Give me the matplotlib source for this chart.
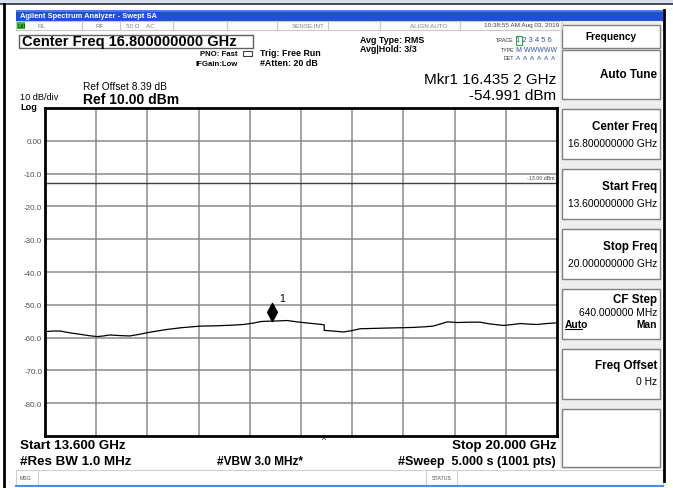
import numpy as np
import matplotlib.pyplot as plt
from matplotlib.patches import Rectangle
from matplotlib.path import Path

plt.rcParams['font.family'] = ['Liberation Sans', 'DejaVu Sans']

# sweep settings
f_start = 13.6
f_stop = 20.0
ref_level = 10.0
db_div = 10.0
limit_dbm = -13.0

# trace (GHz, dBm)
freq = [13.60, 13.70, 13.79, 13.90, 14.04, 14.15, 14.25, 14.33, 14.41, 14.55,
        14.66, 14.78, 14.88, 15.00, 15.13, 15.30, 15.54, 15.75, 15.95, 16.08,
        16.20, 16.30, 16.38, 16.435, 16.52, 16.63, 16.75, 16.90, 17.06, 17.09,
        17.09, 17.20, 17.33, 17.45, 17.54, 17.70, 17.85, 18.04, 18.20, 18.35,
        18.45, 18.55, 18.63, 18.75, 18.90, 19.04, 19.15, 19.33, 19.45, 19.54,
        19.65, 19.75, 19.88, 20.00]
level = [-58.2, -58.0, -58.0, -58.5, -59.0, -59.4, -59.7, -59.5, -59.2, -59.4,
         -59.5, -59.0, -58.5, -58.0, -57.5, -57.0, -56.5, -56.4, -56.2, -56.0,
         -55.6, -55.1, -55.0, -54.99, -54.9, -54.8, -55.2, -55.6, -56.0, -56.1,
         -57.8, -58.0, -58.3, -57.8, -57.3, -57.2, -57.1, -57.0, -56.9, -56.7,
         -56.5, -55.8, -55.2, -55.4, -55.3, -55.3, -55.8, -56.3, -56.0, -55.7,
         -55.9, -56.0, -55.7, -55.5]

mkr_freq = 16.4352
mkr_level = -54.991

ytick_vals = [0, -10, -20, -30, -40, -50, -60, -70, -80]
ytick_text = ['0.00', '-10.0', '-20.0', '-30.0', '-40.0', '-50.0', '-60.0', '-70.0', '-80.0']

softkeys = [('Center Freq', '16.800000000 GHz'),
            ('Start Freq', '13.600000000 GHz'),
            ('Stop Freq', '20.000000000 GHz')]

W, H = 673, 489
fig = plt.figure(figsize=(W / 100, H / 100), dpi=100)
fig.patch.set_facecolor('white')

# screen furniture, drawn in pixel coords
bg = fig.add_axes([0, 0, 1, 1])
bg.set_xlim(0, W)
bg.set_ylim(H, 0)
bg.axis('off')

def box(x0, y0, x1, y1, fc='white', ec='none', lw=1.0, z=1):
    bg.add_patch(Rectangle((x0, y0), x1 - x0, y1 - y0, facecolor=fc,
                           edgecolor=ec, linewidth=lw, zorder=z))

def txt(x, y, s, size=7, ha='left', weight='normal', color='black', **kw):
    bg.text(x, y, s, fontsize=size, ha=ha, va='center', fontweight=weight,
            color=color, zorder=5, **kw)

box(0, 0, W, 4.5, fc='#d9e1ee')
bg.plot([0, W], [4.8, 4.8], color='#303040', lw=1.2)
bg.plot([3.5, 3.5], [5, H], color='black', lw=2)
bg.plot([664, 664], [11, 482], color='black', lw=2)

# title bar
box(16, 11, 663, 21.5, fc='#1f4fd6')
box(16, 11, 663, 13, fc='#4d78e8')
txt(20, 16.5, 'Agilent Spectrum Analyzer - Swept SA', size=5.4, weight='bold', color='white')

# status row
box(16, 21.5, 663, 30.5, fc='white', ec='#c8c8c8', lw=0.8)
for xs in [82, 120, 173, 227, 277, 328, 380, 460, 562]:
    bg.plot([xs, xs], [22, 30], color='#c8c8c8', lw=0.8)
box(17, 22.5, 24.5, 29.5, fc='#33c433')
txt(17.5, 26, 'LXI', size=3.8, weight='bold', color='#104010')
txt(37, 26, 'RL', size=4.5, color='#808080')
txt(95, 26, 'RF', size=4.5, color='#808080')
txt(126, 26, '50 Ω    AC', size=4.5, color='#808080')
txt(325, 26, 'SENSE:INT', size=4.5, color='#808080', ha='right')
txt(447, 26, 'ALIGN AUTO', size=4.5, color='#808080', ha='right')
txt(559, 26, '10:38:55 AM Aug 03, 2019', size=4.6, color='#404040', ha='right')

# header
box(19, 35.5, 253, 48.5, fc='white', ec='#606060', lw=1.0)
txt(22, 42, 'Center Freq 16.800000000 GHz', size=10.5, weight='bold')
txt(238, 54, 'PNO: Fast', size=5.6, weight='bold', ha='right')
txt(238, 65, 'IFGain:Low', size=5.6, weight='bold', ha='right')
bg.add_patch(Rectangle((243, 51.5), 9, 5, facecolor='white', edgecolor='#404040', lw=0.8, zorder=3))
txt(260, 53.5, 'Trig: Free Run', size=6.4, weight='bold')
txt(260, 64, '#Atten: 20 dB', size=6.4, weight='bold')
txt(360, 40.5, 'Avg Type: RMS', size=6.4, weight='bold')
txt(360, 50, 'Avg|Hold: 3/3', size=6.4, weight='bold')
txt(514, 41, 'TRACE', size=3.8, ha='right', color='#303030')
txt(514, 50, 'TYPE', size=3.8, ha='right', color='#303030')
txt(514, 58.5, 'DET', size=3.8, ha='right', color='#303030')
box(515.5, 36.5, 522, 45.5, fc='none', ec='#30b030', lw=0.8)
txt(516.5, 41, '1 2 3 4 5 6', size=5.4, color='#3050a0')
txt(516.5, 50, 'M WWWWW', size=5.0, color='#3050a0')
txt(516.5, 58.5, 'A  A  A  A  A  A', size=4.6, color='#3050a0')
txt(556, 80, 'Mkr1 16.435 2 GHz', size=11, ha='right')
txt(556, 96, '-54.991 dBm', size=11, ha='right')
txt(83, 87, 'Ref Offset 8.39 dB', size=7.3)
txt(83, 99.5, 'Ref 10.00 dBm', size=10, weight='bold')
txt(20, 98, '10 dB/div', size=6.6)
txt(20, 107.5, 'Log', size=6.6, weight='bold')

# footer
txt(20, 446, 'Start 13.600 GHz', size=9.6, weight='bold')
txt(20, 462, '#Res BW 1.0 MHz', size=9.6, weight='bold')
txt(217, 462, '#VBW 3.0 MHz*', size=8.6, weight='bold')
txt(556, 446, 'Stop 20.000 GHz', size=9.6, weight='bold', ha='right')
txt(556, 462, '#Sweep  5.000 s (1001 pts)', size=9.0, weight='bold', ha='right')
txt(324, 441, '^', size=6, ha='center')

# message bar
box(16, 470.5, 663, 486, fc='white', ec='#d0d0d0', lw=0.8)
for xs in [38, 426, 457]:
    bg.plot([xs, xs], [471, 486], color='#d0d0d0', lw=0.8)
txt(20, 478, 'MSG', size=3.8, color='#505050')
txt(441.5, 478, 'STATUS', size=3.8, color='#505050', ha='center')
bg.plot([16, 663], [487, 487], color='#4a90e0', lw=1.5)

# soft keys
box(560, 22, 662, 470, fc='#eeeeee')
box(562, 26, 660, 48.5, fc='white', ec='#808080', lw=1.0)
txt(611, 37, 'Frequency', size=7.3, weight='bold', ha='center')
box(562, 51, 660, 100, fc='white', ec='#808080', lw=1.0)
txt(657, 75, 'Auto Tune', size=8.4, weight='bold', ha='right')
top = 110
for name, value in softkeys:
    box(562, top, 660, top + 50, fc='white', ec='#808080', lw=1.0)
    txt(657, top + 17, name, size=8.4, weight='bold', ha='right')
    txt(657, top + 34, value, size=7.4, ha='right')
    top += 60
box(562, 290, 660, 340, fc='white', ec='#808080', lw=1.0)
txt(657, 300, 'CF Step', size=8.4, weight='bold', ha='right')
txt(657, 313, '640.000000 MHz', size=7.4, ha='right')
txt(565, 325, 'Auto', size=7.4, weight='bold')
bg.plot([565, 582], [329.5, 329.5], color='black', lw=0.8)
txt(657, 325, 'Man', size=7.4, weight='bold', ha='right')
box(562, 350, 660, 400, fc='white', ec='#808080', lw=1.0)
txt(657, 366, 'Freq Offset', size=8.4, weight='bold', ha='right')
txt(657, 382, '0 Hz', size=7.4, ha='right')
box(562, 410, 660, 468, fc='white', ec='#808080', lw=1.0)

# graticule
ax = fig.add_axes([45 / W, (H - 437) / H, 512 / W, 328 / H])
ax.set_xlim(f_start, f_stop)
ax.set_ylim(ref_level - 10 * db_div, ref_level)
ax.set_xticks(np.linspace(f_start, f_stop, 11)[1:-1])
ax.set_yticks(ytick_vals)
ax.set_yticklabels(ytick_text)
ax.tick_params(axis='x', length=0, labelbottom=False)
ax.tick_params(axis='y', length=0, pad=2, labelsize=5.8, labelcolor='#505050')
ax.grid(True, color='#8a8a8a', lw=1.1)
for s in ax.spines.values():
    s.set_linewidth(2)
    s.set_color('black')

ax.axhline(limit_dbm, color='#404040', lw=1.0)
ax.text(f_stop - 0.03, limit_dbm + 1.2, '%.2f dBm' % limit_dbm, fontsize=3.8,
        ha='right', va='bottom', color='#404040')

ax.plot(freq, level, color='black', lw=0.9)

diamond = Path([(0, 0), (0.27, 0.5), (0, 1), (-0.27, 0.5), (0, 0)],
               [Path.MOVETO, Path.LINETO, Path.LINETO, Path.LINETO, Path.CLOSEPOLY])
ax.plot([mkr_freq], [mkr_level], marker=diamond, markersize=26, color='black', ls='none')
ax.annotate('1', (mkr_freq, mkr_level), xytext=(5, 13), textcoords='offset points',
            fontsize=7.5, va='bottom')

fig.savefig('out.png', dpi=100)
